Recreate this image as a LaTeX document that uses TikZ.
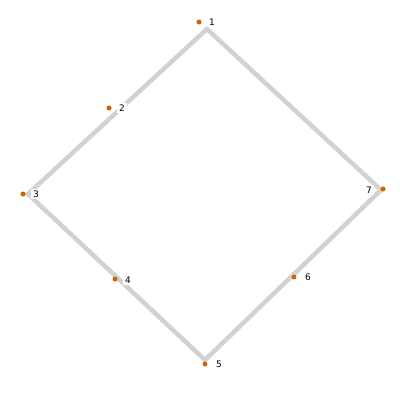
\documentclass[tikz,border=0pt]{standalone}
\usepackage{fontspec}
\setmainfont{DejaVu Sans}
\definecolor{dotc}{RGB}{204,102,0}
\definecolor{edgec}{RGB}{210,210,210}
\begin{document}
\begin{tikzpicture}[x=1pt,y=-1pt,
  dotn/.style={circle,fill=dotc,inner sep=0pt,minimum size=5pt},
  lab/.style={fill=white,inner sep=2pt,font=\fontsize{9}{10}\selectfont},
  edge/.style={draw=edgec,line width=4.5pt,line join=miter}]
\useasboundingbox (0,0) rectangle (400,400);
\fill[white] (0,0) rectangle (400,400);
\coordinate (vt) at (207,29);
\coordinate (vr) at (381,190);
\coordinate (vb) at (205,360);
\coordinate (vl) at (28,194);
\draw[edge] (vt) -- (vr) -- (vb) -- (vl) -- cycle;
\node[dotn] (d1) at (199,22) {};
\node[dotn] (d2) at (109,108) {};
\node[dotn] (d3) at (23,194) {};
\node[dotn] (d4) at (115,279) {};
\node[dotn] (d5) at (205,364) {};
\node[dotn] (d6) at (294,277) {};
\node[dotn] (d7) at (383,189) {};
\node[lab] (l1) at (212,22) {1};
\node[lab] (l2) at (122,108) {2};
\node[lab] (l3) at (36,194) {3};
\node[lab] (l4) at (128,280) {4};
\node[lab] (l5) at (219,364) {5};
\node[lab] (l6) at (308,277) {6};
\node[lab] (l7) at (369,190) {7};
\end{tikzpicture}
\end{document}
